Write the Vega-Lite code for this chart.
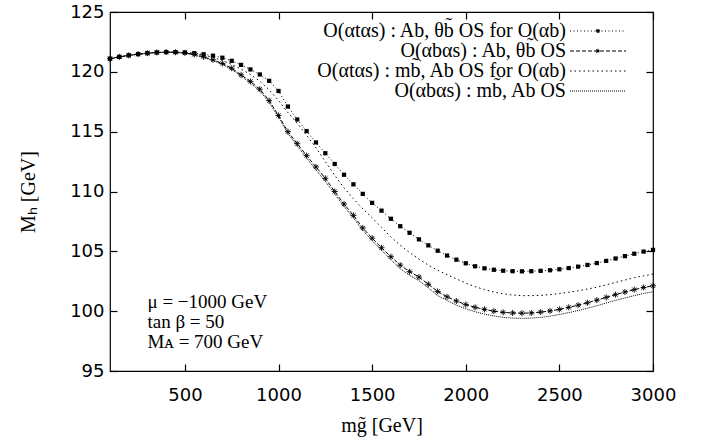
{
  "$schema": "https://vega.github.io/schema/vega-lite/v6.json",
  "width": 543,
  "height": 359,
  "autosize": {"type": "none"},
  "padding": {"left": 110, "top": 12, "right": 54, "bottom": 70},
  "background": "white",
  "config": {
    "view": {"stroke": "black", "strokeWidth": 1.2},
    "axis": {
      "grid": false, "domain": false, "ticks": true, "labelFlush": false,
      "labelFont": "DejaVu Sans", "labelFontSize": 18, "labelColor": "black",
      "tickColor": "black", "tickSize": 7, "tickWidth": 1.2, "offset": -7,
      "titleFont": "Liberation Serif", "titleFontSize": 20, "titleFontWeight": "normal", "titleColor": "black"
    }
  },
  "datasets": {
    "curves": [
      {"series":"A","m":100,"Mh":121.10},{"series":"A","m":150,"Mh":121.25},{"series":"A","m":200,"Mh":121.38},{"series":"A","m":250,"Mh":121.48},{"series":"A","m":300,"Mh":121.56},{"series":"A","m":350,"Mh":121.62},{"series":"A","m":400,"Mh":121.65},{"series":"A","m":450,"Mh":121.65},{"series":"A","m":500,"Mh":121.62},{"series":"A","m":550,"Mh":121.56},{"series":"A","m":600,"Mh":121.47},{"series":"A","m":650,"Mh":121.35},{"series":"A","m":700,"Mh":121.18},{"series":"A","m":750,"Mh":120.92},{"series":"A","m":800,"Mh":120.58},{"series":"A","m":850,"Mh":120.20},{"series":"A","m":900,"Mh":119.78},{"series":"A","m":950,"Mh":119.25},{"series":"A","m":1000,"Mh":118.40},{"series":"A","m":1050,"Mh":117.10},{"series":"A","m":1100,"Mh":116.02},{"series":"A","m":1150,"Mh":115.05},{"series":"A","m":1200,"Mh":114.10},{"series":"A","m":1250,"Mh":113.20},{"series":"A","m":1300,"Mh":112.30},{"series":"A","m":1350,"Mh":111.40},{"series":"A","m":1400,"Mh":110.60},{"series":"A","m":1450,"Mh":109.80},{"series":"A","m":1500,"Mh":109.05},{"series":"A","m":1550,"Mh":108.40},{"series":"A","m":1600,"Mh":107.72},{"series":"A","m":1650,"Mh":107.10},{"series":"A","m":1700,"Mh":106.55},{"series":"A","m":1750,"Mh":106.00},{"series":"A","m":1800,"Mh":105.50},{"series":"A","m":1850,"Mh":105.05},{"series":"A","m":1900,"Mh":104.65},{"series":"A","m":1950,"Mh":104.30},{"series":"A","m":2000,"Mh":104.00},{"series":"A","m":2050,"Mh":103.75},{"series":"A","m":2100,"Mh":103.58},{"series":"A","m":2150,"Mh":103.46},{"series":"A","m":2200,"Mh":103.38},{"series":"A","m":2250,"Mh":103.34},{"series":"A","m":2300,"Mh":103.33},{"series":"A","m":2350,"Mh":103.34},{"series":"A","m":2400,"Mh":103.37},{"series":"A","m":2450,"Mh":103.42},{"series":"A","m":2500,"Mh":103.50},{"series":"A","m":2550,"Mh":103.60},{"series":"A","m":2600,"Mh":103.72},{"series":"A","m":2650,"Mh":103.86},{"series":"A","m":2700,"Mh":104.02},{"series":"A","m":2750,"Mh":104.20},{"series":"A","m":2800,"Mh":104.40},{"series":"A","m":2850,"Mh":104.60},{"series":"A","m":2900,"Mh":104.80},{"series":"A","m":2950,"Mh":104.98},{"series":"A","m":3000,"Mh":105.12},

      {"series":"B","m":100,"Mh":121.10},{"series":"B","m":150,"Mh":121.25},{"series":"B","m":200,"Mh":121.38},{"series":"B","m":250,"Mh":121.48},{"series":"B","m":300,"Mh":121.56},{"series":"B","m":350,"Mh":121.62},{"series":"B","m":400,"Mh":121.65},{"series":"B","m":450,"Mh":121.64},{"series":"B","m":500,"Mh":121.58},{"series":"B","m":550,"Mh":121.45},{"series":"B","m":600,"Mh":121.25},{"series":"B","m":650,"Mh":121.00},{"series":"B","m":700,"Mh":120.70},{"series":"B","m":750,"Mh":120.30},{"series":"B","m":800,"Mh":119.75},{"series":"B","m":850,"Mh":119.20},{"series":"B","m":900,"Mh":118.55},{"series":"B","m":950,"Mh":117.60},{"series":"B","m":1000,"Mh":116.35},{"series":"B","m":1050,"Mh":115.00},{"series":"B","m":1100,"Mh":114.00},{"series":"B","m":1150,"Mh":113.00},{"series":"B","m":1200,"Mh":112.05},{"series":"B","m":1250,"Mh":111.10},{"series":"B","m":1300,"Mh":110.00},{"series":"B","m":1350,"Mh":108.95},{"series":"B","m":1400,"Mh":108.00},{"series":"B","m":1450,"Mh":106.95},{"series":"B","m":1500,"Mh":106.10},{"series":"B","m":1550,"Mh":105.30},{"series":"B","m":1600,"Mh":104.55},{"series":"B","m":1650,"Mh":103.85},{"series":"B","m":1700,"Mh":103.30},{"series":"B","m":1750,"Mh":102.85},{"series":"B","m":1800,"Mh":102.25},{"series":"B","m":1850,"Mh":101.65},{"series":"B","m":1900,"Mh":101.20},{"series":"B","m":1950,"Mh":100.85},{"series":"B","m":2000,"Mh":100.55},{"series":"B","m":2050,"Mh":100.32},{"series":"B","m":2100,"Mh":100.15},{"series":"B","m":2150,"Mh":100.00},{"series":"B","m":2200,"Mh":99.90},{"series":"B","m":2250,"Mh":99.85},{"series":"B","m":2300,"Mh":99.83},{"series":"B","m":2350,"Mh":99.85},{"series":"B","m":2400,"Mh":99.92},{"series":"B","m":2450,"Mh":100.02},{"series":"B","m":2500,"Mh":100.15},{"series":"B","m":2550,"Mh":100.32},{"series":"B","m":2600,"Mh":100.50},{"series":"B","m":2650,"Mh":100.70},{"series":"B","m":2700,"Mh":100.92},{"series":"B","m":2750,"Mh":101.15},{"series":"B","m":2800,"Mh":101.38},{"series":"B","m":2850,"Mh":101.60},{"series":"B","m":2900,"Mh":101.80},{"series":"B","m":2950,"Mh":101.98},{"series":"B","m":3000,"Mh":102.12},

      {"series":"C","m":100,"Mh":121.10},{"series":"C","m":150,"Mh":121.25},{"series":"C","m":200,"Mh":121.38},{"series":"C","m":250,"Mh":121.48},{"series":"C","m":300,"Mh":121.56},{"series":"C","m":350,"Mh":121.62},{"series":"C","m":400,"Mh":121.65},{"series":"C","m":450,"Mh":121.65},{"series":"C","m":500,"Mh":121.61},{"series":"C","m":550,"Mh":121.52},{"series":"C","m":600,"Mh":121.40},{"series":"C","m":650,"Mh":121.20},{"series":"C","m":700,"Mh":120.95},{"series":"C","m":750,"Mh":120.62},{"series":"C","m":800,"Mh":120.22},{"series":"C","m":850,"Mh":119.78},{"series":"C","m":900,"Mh":119.22},{"series":"C","m":950,"Mh":118.50},{"series":"C","m":1000,"Mh":117.60},{"series":"C","m":1050,"Mh":116.60},{"series":"C","m":1100,"Mh":115.70},{"series":"C","m":1150,"Mh":114.70},{"series":"C","m":1200,"Mh":113.65},{"series":"C","m":1250,"Mh":112.50},{"series":"C","m":1300,"Mh":111.35},{"series":"C","m":1350,"Mh":110.30},{"series":"C","m":1400,"Mh":109.40},{"series":"C","m":1450,"Mh":108.55},{"series":"C","m":1500,"Mh":107.80},{"series":"C","m":1550,"Mh":107.00},{"series":"C","m":1600,"Mh":106.20},{"series":"C","m":1650,"Mh":105.50},{"series":"C","m":1700,"Mh":104.90},{"series":"C","m":1750,"Mh":104.35},{"series":"C","m":1800,"Mh":103.85},{"series":"C","m":1850,"Mh":103.42},{"series":"C","m":1900,"Mh":103.05},{"series":"C","m":1950,"Mh":102.70},{"series":"C","m":2000,"Mh":102.35},{"series":"C","m":2050,"Mh":102.05},{"series":"C","m":2100,"Mh":101.80},{"series":"C","m":2150,"Mh":101.60},{"series":"C","m":2200,"Mh":101.45},{"series":"C","m":2250,"Mh":101.35},{"series":"C","m":2300,"Mh":101.30},{"series":"C","m":2350,"Mh":101.30},{"series":"C","m":2400,"Mh":101.32},{"series":"C","m":2450,"Mh":101.38},{"series":"C","m":2500,"Mh":101.47},{"series":"C","m":2550,"Mh":101.58},{"series":"C","m":2600,"Mh":101.70},{"series":"C","m":2650,"Mh":101.85},{"series":"C","m":2700,"Mh":102.00},{"series":"C","m":2750,"Mh":102.20},{"series":"C","m":2800,"Mh":102.40},{"series":"C","m":2850,"Mh":102.60},{"series":"C","m":2900,"Mh":102.80},{"series":"C","m":2950,"Mh":102.95},{"series":"C","m":3000,"Mh":103.10},

      {"series":"D","m":100,"Mh":121.08},{"series":"D","m":150,"Mh":121.23},{"series":"D","m":200,"Mh":121.36},{"series":"D","m":250,"Mh":121.46},{"series":"D","m":300,"Mh":121.54},{"series":"D","m":350,"Mh":121.60},{"series":"D","m":400,"Mh":121.62},{"series":"D","m":450,"Mh":121.61},{"series":"D","m":500,"Mh":121.55},{"series":"D","m":550,"Mh":121.40},{"series":"D","m":600,"Mh":121.20},{"series":"D","m":650,"Mh":120.95},{"series":"D","m":700,"Mh":120.62},{"series":"D","m":750,"Mh":120.20},{"series":"D","m":800,"Mh":119.65},{"series":"D","m":850,"Mh":119.05},{"series":"D","m":900,"Mh":118.40},{"series":"D","m":950,"Mh":117.45},{"series":"D","m":1000,"Mh":116.20},{"series":"D","m":1050,"Mh":114.85},{"series":"D","m":1100,"Mh":113.80},{"series":"D","m":1150,"Mh":112.80},{"series":"D","m":1200,"Mh":111.80},{"series":"D","m":1250,"Mh":110.85},{"series":"D","m":1300,"Mh":109.80},{"series":"D","m":1350,"Mh":108.75},{"series":"D","m":1400,"Mh":107.80},{"series":"D","m":1450,"Mh":106.75},{"series":"D","m":1500,"Mh":105.90},{"series":"D","m":1550,"Mh":105.10},{"series":"D","m":1600,"Mh":104.30},{"series":"D","m":1650,"Mh":103.55},{"series":"D","m":1700,"Mh":103.00},{"series":"D","m":1750,"Mh":102.55},{"series":"D","m":1800,"Mh":101.95},{"series":"D","m":1850,"Mh":101.30},{"series":"D","m":1900,"Mh":100.90},{"series":"D","m":1950,"Mh":100.50},{"series":"D","m":2000,"Mh":100.20},{"series":"D","m":2050,"Mh":99.95},{"series":"D","m":2100,"Mh":99.75},{"series":"D","m":2150,"Mh":99.60},{"series":"D","m":2200,"Mh":99.48},{"series":"D","m":2250,"Mh":99.42},{"series":"D","m":2300,"Mh":99.40},{"series":"D","m":2350,"Mh":99.42},{"series":"D","m":2400,"Mh":99.48},{"series":"D","m":2450,"Mh":99.58},{"series":"D","m":2500,"Mh":99.72},{"series":"D","m":2550,"Mh":99.88},{"series":"D","m":2600,"Mh":100.05},{"series":"D","m":2650,"Mh":100.25},{"series":"D","m":2700,"Mh":100.45},{"series":"D","m":2750,"Mh":100.68},{"series":"D","m":2800,"Mh":100.90},{"series":"D","m":2850,"Mh":101.10},{"series":"D","m":2900,"Mh":101.30},{"series":"D","m":2950,"Mh":101.48},{"series":"D","m":3000,"Mh":101.62}
    ]
  },
  "layer": [
    {
      "data": {"name": "curves"},
      "mark": {"type": "line", "color": "black", "strokeWidth": 1},
      "encoding": {
        "x": {"field": "m", "type": "quantitative", "scale": {"domain": [100, 3000], "nice": false, "zero": false},
              "axis": {"orient": "bottom", "values": [500, 1000, 1500, 2000, 2500, 3000], "format": "d", "title": "mg̃ [GeV]", "labelPadding": 15, "titlePadding": 11}},
        "y": {"field": "Mh", "type": "quantitative", "scale": {"domain": [95, 125], "nice": false, "zero": false},
              "axis": {"orient": "left", "values": [95, 100, 105, 110, 115, 120, 125], "format": "d", "title": "Mₕ [GeV]", "labelPadding": 6, "titlePadding": 31}},
        "strokeDash": {
          "field": "series", "type": "nominal",
          "scale": {"domain": ["A", "B", "C", "D"], "range": [[1, 2.5], [4, 2], [1.5, 3], [1, 1]]},
          "legend": {
            "orient": "none", "legendX": 478, "legendY": 9, "title": null,
            "symbolType": "M-10,0H10", "symbolSize": 31.36, "symbolStrokeWidth": 1, "symbolStrokeColor": "black",
            "labelAlign": "right", "labelOffset": -42,
            "labelFont": "Liberation Serif", "labelFontSize": 20, "labelColor": "black", "labelLimit": 400,
            "rowPadding": 0,
            "labelExpr": "datum.value == 'A' ? 'O(αtαs) : Ab, θb̃ OS for O(αb)' : datum.value == 'B' ? 'O(αbαs) : Ab, θb̃ OS' : datum.value == 'C' ? 'O(αtαs) : mb̃, Ab OS for O(αb)' : 'O(αbαs) : mb̃, Ab OS'",
            "encode": {
              "symbols": {
                "update": {
                  "shape": {"signal": "datum.value == 'A' ? 'M-10,0H10M-0.55,-0.55H0.55V0.55H-0.55Z' : datum.value == 'B' ? 'M-10,0H10M-0.8,0H0.8M0,-0.8V0.8M-0.6,-0.6L0.6,0.6M-0.6,0.6L0.6,-0.6' : 'M-10,0H10'"},
                  "fill": {"value": "black"},
                  "stroke": {"value": "black"},
                  "strokeWidth": {"value": 1},
                  "strokeDash": {"scale": "strokeDash", "field": "value"}
                }
              }
            }
          }
        }
      }
    },
    {
      "data": {"name": "curves"},
      "transform": [{"filter": "datum.series == 'A'"}],
      "mark": {"type": "point", "shape": "square", "filled": true, "color": "black", "size": 18, "opacity": 1},
      "encoding": {
        "x": {"field": "m", "type": "quantitative", "axis": {"orient": "top", "values": [500, 1000, 1500, 2000, 2500, 3000], "labels": false, "title": null}},
        "y": {"field": "Mh", "type": "quantitative", "axis": {"orient": "right", "values": [95, 100, 105, 110, 115, 120, 125], "labels": false, "title": null}}
      }
    },
    {
      "data": {"name": "curves"},
      "transform": [{"filter": "datum.series == 'B'"}],
      "mark": {"type": "point", "shape": "M-1,0L1,0M0,-1L0,1M-0.7,-0.7L0.7,0.7M-0.7,0.7L0.7,-0.7", "filled": false, "color": "black", "size": 36, "strokeWidth": 0.9, "opacity": 1},
      "encoding": {
        "x": {"field": "m", "type": "quantitative", "axis": null},
        "y": {"field": "Mh", "type": "quantitative", "axis": null}
      }
    },
    {
      "data": {"values": [{}]},
      "mark": {"type": "text", "align": "left", "baseline": "middle", "font": "Liberation Serif", "fontSize": 19, "lineHeight": 20, "color": "black"},
      "encoding": {
        "x": {"datum": 300, "type": "quantitative", "axis": null},
        "y": {"datum": 100.77, "type": "quantitative", "axis": null},
        "text": {"value": ["μ = −1000 GeV", "\u00a0\u00a0tan β = 50", "Mᴀ = 700 GeV"]}
      }
    }
  ]
}
